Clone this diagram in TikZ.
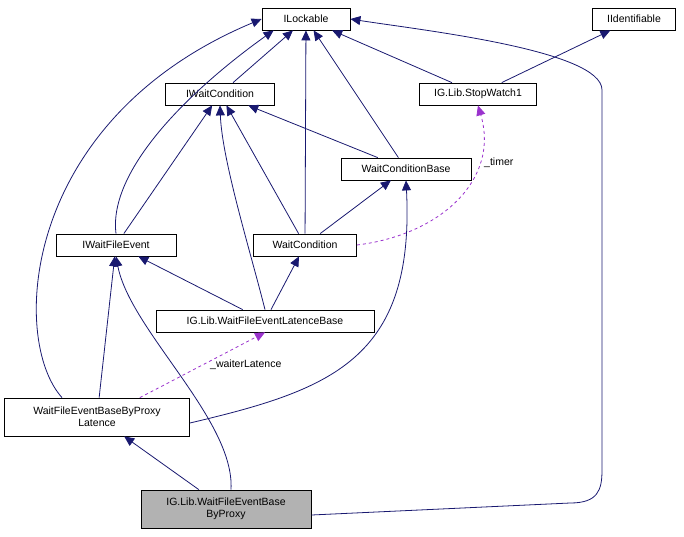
\documentclass[tikz,border=0pt]{standalone}
\usepackage{fontspec}
\setmainfont{Liberation Sans}
\usetikzlibrary{arrows.meta}
\begin{document}
\begin{tikzpicture}[x=1pt,y=-1pt,
 box/.style={draw=black,fill=white,font=\fontsize{10.5}{12}\selectfont,inner sep=0pt,align=center,line width=0.8pt},
 inh/.style={draw=midnightblue,line width=0.8pt,-{Triangle[length=10pt,width=9pt,fill=midnightblue]}},
 use/.style={draw=purple2,line width=0.8pt,dashed,-{Triangle[length=10pt,width=9pt,fill=purple2]}},
 lab/.style={font=\fontsize{10.5}{12}\selectfont}]
\definecolor{midnightblue}{RGB}{25,25,112}
\definecolor{purple2}{RGB}{154,50,205}
\useasboundingbox (0,0) rectangle (684,536);
\node[box,minimum width=88,minimum height=22] (ilock) at (306,19) {ILockable};
\node[box,minimum width=83,minimum height=22] (iid) at (634,19) {IIdentifiable};
\node[box,minimum width=109,minimum height=22] (iwc) at (220,94) {IWaitCondition};
\node[box,minimum width=117,minimum height=22] (sw) at (478,94) {IG.Lib.StopWatch1};
\node[box,minimum width=130,minimum height=22] (wcb) at (406,169) {WaitConditionBase};
\node[box,minimum width=120,minimum height=22] (iwfe) at (116,245) {IWaitFileEvent};
\node[box,minimum width=103,minimum height=22] (wc) at (305,245) {WaitCondition};
\node[box,minimum width=218,minimum height=22] (lb) at (265,321) {IG.Lib.WaitFileEventLatenceBase};
\node[box,minimum width=185,minimum height=38] (pl) at (97,417) {WaitFileEventBaseByProxy\\Latence};
\node[box,fill=black!30,minimum width=170,minimum height=38] (bp) at (226,509) {IG.Lib.WaitFileEventBase\\ByProxy};
\draw[inh] (iwc) -- (ilock);
\draw[inh] (sw) -- (ilock);
\draw[inh] (sw) -- (iid);
\draw[inh] (wcb) -- (ilock);
\draw[inh] (wcb) -- (iwc);
\draw[inh] (iwfe.north) .. controls (108,170) and (190,90) .. ([xshift=12pt]ilock.south west);
\draw[inh] (iwfe) -- (iwc);
\draw[inh] (wc) -- (ilock);
\draw[inh] (wc) -- (iwc);
\draw[inh] (wc) -- (wcb);
\draw[use] (wc.east) .. controls (440,235) and (500,180) .. (sw.south) node[lab,pos=0.72,right,xshift=2pt] {\_timer};
\draw[inh] (lb.north) .. controls (250,250) and (222,160) .. (iwc.south);
\draw[inh] (lb) -- (iwfe);
\draw[inh] (lb) -- (wc);
\draw[inh] ([xshift=-35pt]pl.north) .. controls (10,340) and (20,120) .. (ilock.west);
\draw[inh] (pl) -- (iwfe);
\draw[inh] ([yshift=-6pt]pl.east) .. controls (330,390) and (415,360) .. (wcb.south);
\draw[use] ([xshift=-50pt]pl.north east) -- (lb.south) node[lab,pos=0.5,right,xshift=4pt,yshift=0pt] {\_waiterLatence};
\draw[inh] (bp) -- (pl);
\draw[inh] ([xshift=5pt]bp.north) .. controls (235,420) and (130,330) .. (iwfe.south);
\draw[inh] ([yshift=-6pt]bp.east) -- (570,503) .. controls (598,503) and (602,490) .. (602,470) -- (602,90) .. controls (602,50) and (420,30) .. (ilock.east);
\end{tikzpicture}
\end{document}
